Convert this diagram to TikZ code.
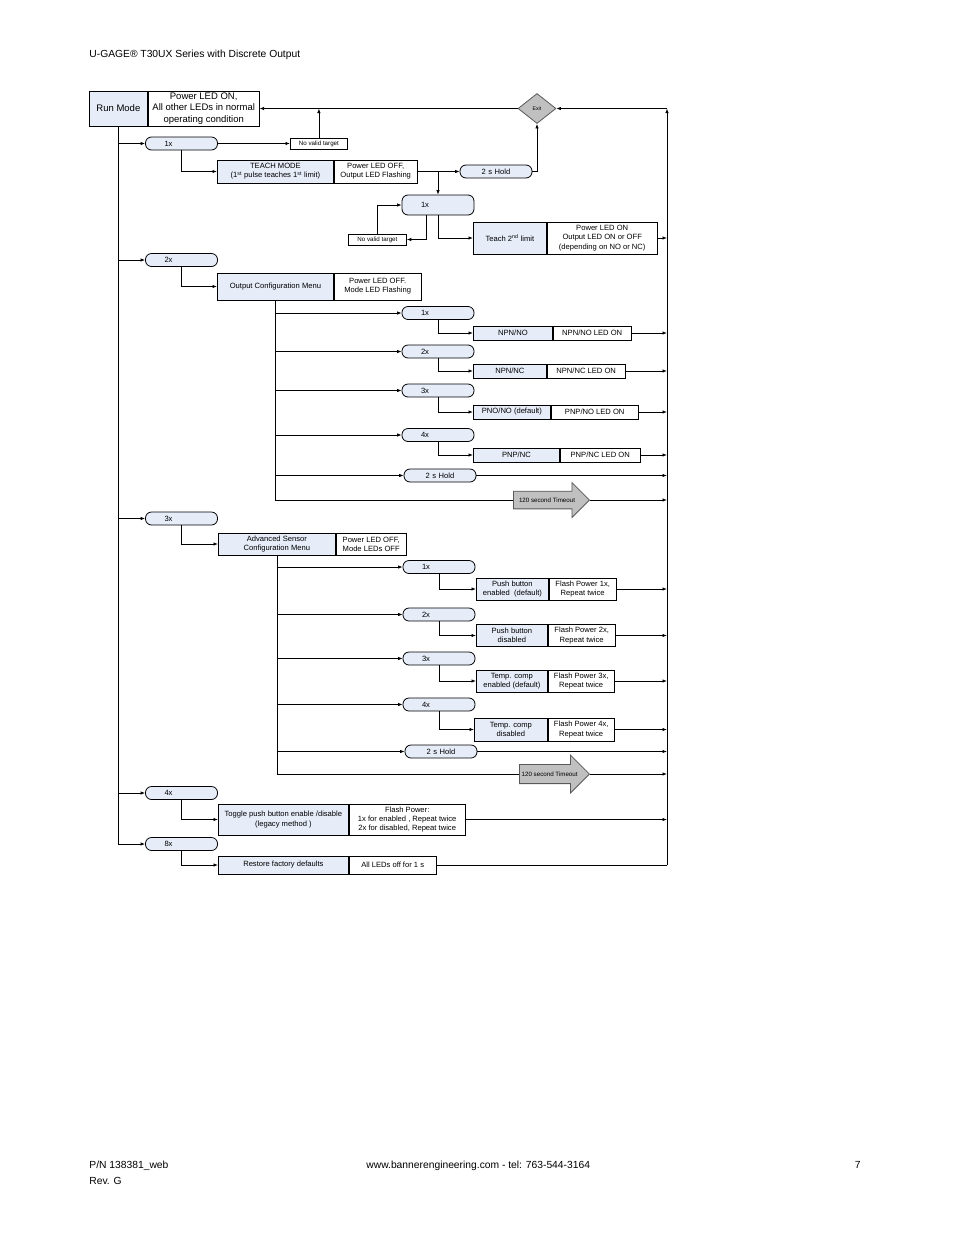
\documentclass[tikz,border=0pt]{standalone}
\usepackage{fontspec}
\setmainfont{Liberation Sans}
\usetikzlibrary{arrows.meta,shapes.geometric,shapes.arrows}
\definecolor{boxblue}{RGB}{230,236,248}
\definecolor{exitgray}{RGB}{192,192,192}
\newcommand{\fbig}{\fontsize{9.5}{11.4}\selectfont}
\newcommand{\fmid}{\fontsize{7.6}{9.2}\selectfont}
\newcommand{\fsml}{\fontsize{6.2}{7.4}\selectfont}
\newcommand{\ftny}{\fontsize{5.2}{6}\selectfont}
\newcommand{\fpage}{\fontsize{10.3}{12}\selectfont}
\tikzset{
 lbox/.style={draw, fill=boxblue, inner sep=1pt, align=center, font=\fmid, anchor=west},
 rbox/.style={draw, fill=white, inner sep=1pt, align=center, font=\fmid, anchor=west},
 pill/.style={draw, fill=boxblue, rounded corners=6pt, minimum width=72pt, minimum height=13pt,
   text width=34pt, inner xsep=19pt, inner ysep=0pt, align=left, font=\fmid},
 holdpill/.style={pill, text width=60pt, inner xsep=6pt, align=center},
 nvt/.style={draw, fill=white, inner sep=1pt, font=\fsml, anchor=west},
 tmo/.style={single arrow, draw=gray!70!black, fill=exitgray, single arrow head extend=8pt,
   minimum width=35pt, inner xsep=1pt, inner ysep=5.5pt, font=\fsml, anchor=tip},
 exitbox/.style={diamond, draw=gray!70!black, fill=exitgray, minimum width=38pt, minimum height=30pt,
   inner sep=0pt, font=\ftny},
 pagetxt/.style={inner sep=0pt, font=\fpage}
}

\begin{document}
\begin{tikzpicture}[x=1pt,y=-1pt,line width=0.8pt,>={Latex[length=4.5pt,width=3.5pt]}]
 \fill[white] (0,0) rectangle (954,1235);
 \useasboundingbox (0,0) rectangle (954,1235);

 %page header and footer
 \node[pagetxt, anchor=base west] (title) at (89,57) {U-GAGE® T30UX Series with Discrete Output};
 \node[pagetxt, anchor=base west] (pn) at (89,1168) {P/N 138381\_web};
 \node[pagetxt, anchor=base west] (rev) at (89,1184) {Rev. G};
 \node[pagetxt, anchor=base west] (web) at (366,1168) {www.bannerengineering.com - tel: 763-544-3164};
 \node[pagetxt, anchor=base east] (pg) at (861,1168) {7};

 %run mode and exit
 \node[lbox, font=\fbig, minimum width=58pt, minimum height=35pt] (runmode) at (89,108.5) {Run Mode};
 \node[rbox, font=\fbig, minimum width=111pt, minimum height=35pt] (runled) at (runmode.east)
   {Power LED ON,\\All other LEDs in normal\\operating condition};
 \node[exitbox] (exit) at (537,108.5) {Exit};
 \coordinate (rtop) at (667,108.5);
 \coordinate (rbot) at (667,865);

 %1x : teach
 \node[pill] (p1) at (181.5,143.5) {1x};
 \node[nvt, minimum width=57pt, minimum height=11pt] (nvt1) at (290,143.5) {No valid target};
 \node[lbox, minimum width=116pt, minimum height=23pt] (teach) at (217,171.5)
   {TEACH MODE\\(1\textsuperscript{st} pulse teaches 1\textsuperscript{st} limit)};
 \node[rbox, minimum width=83pt, minimum height=23pt] (teachr) at (teach.east)
   {Power LED OFF,\\Output LED Flashing};
 \node[holdpill] (hold1) at (496,171.5) {2 s Hold};
 \node[pill, minimum height=20pt] (p1b) at (438,205) {1x};
 \node[nvt, minimum width=58pt, minimum height=11pt] (nvt2) at (348,239.5) {No valid target};
 \node[lbox, minimum width=73pt, minimum height=32pt] (teach2) at (473,238) {Teach 2\textsuperscript{nd} limit};
 \node[rbox, minimum width=110pt, minimum height=32pt] (teach2r) at (teach2.east)
   {Power LED ON\\Output LED ON or OFF\\(depending on NO or NC)};

 %2x : output configuration
 \node[pill] (p2) at (181.5,260) {2x};
 \node[lbox, minimum width=116pt, minimum height=27pt] (ocm) at (217,286.5) {Output Configuration Menu};
 \node[rbox, minimum width=87pt, minimum height=27pt] (ocmr) at (ocm.east) {Power LED OFF.\\Mode LED Flashing};
 \node[pill] (q1) at (438,313) {1x};
 \node[pill] (q2) at (438,351.5) {2x};
 \node[pill] (q3) at (438,390.5) {3x};
 \node[pill] (q4) at (438,435) {4x};
 \node[holdpill] (qh) at (440,475.5) {2 s Hold};
 \node[lbox, minimum width=79pt, minimum height=14pt] (oc1) at (473,333) {NPN/NO};
 \node[rbox, minimum width=78pt, minimum height=14pt] (oc1r) at (oc1.east) {NPN/NO LED ON};
 \node[lbox, minimum width=73pt, minimum height=14pt] (oc2) at (473,371) {NPN/NC};
 \node[rbox, minimum width=78pt, minimum height=14pt] (oc2r) at (oc2.east) {NPN/NC LED ON};
 \node[lbox, minimum width=77pt, minimum height=14pt] (oc3) at (473,412) {PNO/NO (default)};
 \node[rbox, minimum width=87pt, minimum height=14pt] (oc3r) at (oc3.east) {PNP/NO LED ON};
 \node[lbox, minimum width=86pt, minimum height=14pt] (oc4) at (473,455) {PNP/NC};
 \node[rbox, minimum width=80pt, minimum height=14pt] (oc4r) at (oc4.east) {PNP/NC LED ON};

 %3x : advanced sensor configuration
 \node[pill] (p3) at (181.5,518.5) {3x};
 \node[lbox, minimum width=117pt, minimum height=22pt] (asc) at (218,544) {Advanced Sensor\\Configuration Menu};
 \node[rbox, minimum width=70pt, minimum height=22pt] (ascr) at (asc.east) {Power LED OFF,\\Mode LEDs OFF};
 \node[pill] (r1) at (439,567) {1x};
 \node[pill] (r2) at (439,614.5) {2x};
 \node[pill] (r3) at (439,658.5) {3x};
 \node[pill] (r4) at (439,704.5) {4x};
 \node[holdpill] (rh) at (441,751.5) {2 s Hold};
 \node[lbox, minimum width=72pt, minimum height=22pt] (as1) at (476,589) {Push button\\enabled~ (default)};
 \node[rbox, minimum width=67pt, minimum height=22pt] (as1r) at (as1.east) {Flash Power 1x,\\Repeat twice};
 \node[lbox, minimum width=71pt, minimum height=22pt] (as2) at (476,635.5) {Push button\\disabled};
 \node[rbox, minimum width=67pt, minimum height=22pt] (as2r) at (as2.east) {Flash Power 2x,\\Repeat twice};
 \node[lbox, minimum width=71pt, minimum height=22pt] (as3) at (476,681) {Temp. comp\\enabled (default)};
 \node[rbox, minimum width=66pt, minimum height=22pt] (as3r) at (as3.east) {Flash Power 3x,\\Repeat twice};
 \node[lbox, minimum width=73pt, minimum height=23pt] (as4) at (474,729.5) {Temp. comp\\disabled};
 \node[rbox, minimum width=66pt, minimum height=23pt] (as4r) at (as4.east) {Flash Power 4x,\\Repeat twice};

 %4x and 8x
 \node[pill] (p4) at (181.5,793) {4x};
 \node[lbox, minimum width=130pt, minimum height=31pt] (tog) at (218,819.5)
   {Toggle push button enable /disable\\(legacy method )};
 \node[rbox, minimum width=116pt, minimum height=31pt] (togr) at (tog.east)
   {Flash Power:\\1x for enabled , Repeat twice\\2x for disabled, Repeat twice};
 \node[pill] (p8) at (181.5,844) {8x};
 \node[lbox, minimum width=130pt, minimum height=18pt] (rst) at (218,865) {Restore factory defaults};
 \node[rbox, minimum width=87pt, minimum height=18pt] (rstr) at (rst.east) {All LEDs off for 1 s};

 %main trunk
 \draw (runmode.south) -- (runmode.south |- p8.west);
 \foreach \p/\b in {p1/teach,p2/ocm,p3/asc,p4/tog,p8/rst}{
   \draw[->] (runmode.south |- \p.west) -- (\p.west);
   \draw[->] (\p.south) |- (\b.west);
 }

 %teach paths
 \draw[->] (p1.east) -- (nvt1.west);
 \draw[->] (nvt1.north) -- (nvt1.north |- runled.east);
 \draw[->] (exit.west) -- (runled.east);
 \draw[->] (teachr.east) -- (hold1.west);
 \draw[->] (hold1.east) -| (exit.south);
 \draw[->] (teachr.east -| p1b.north) -- (p1b.north);
 \draw[->] (nvt2.north) |- (p1b.west);
 \draw[->] ([xshift=-12pt]p1b.south) |- (nvt2.east);
 \draw[->] (p1b.south) |- (teach2.west);
 \draw[->] (teach2r.east) -- (teach2r.east -| rtop);

 %output configuration paths
 \draw (ocm.south) -- (ocm.south |- 0,500);
 \foreach \q/\b/\c in {q1/oc1/oc1r,q2/oc2/oc2r,q3/oc3/oc3r,q4/oc4/oc4r}{
   \draw[->] (ocm.south |- \q.west) -- (\q.west);
   \draw[->] (\q.south) |- (\b.west);
   \draw[->] (\c.east) -- (\c.east -| rtop);
 }
 \draw[->] (ocm.south |- qh.west) -- (qh.west);
 \draw[->] (qh.east) -- (qh.east -| rtop);
 \node[tmo, minimum height=76pt] (tmo1) at (590,500) {120 second Timeout};
 \draw (ocm.south |- tmo1.tail) -- (tmo1.tail);
 \draw[->] (tmo1.tip) -- (tmo1.tip -| rtop);

 %advanced sensor paths
 \draw (asc.south) -- (asc.south |- 0,774);
 \foreach \q/\b/\c in {r1/as1/as1r,r2/as2/as2r,r3/as3/as3r,r4/as4/as4r}{
   \draw[->] (asc.south |- \q.west) -- (\q.west);
   \draw[->] (\q.south) |- (\b.west);
   \draw[->] (\c.east) -- (\c.east -| rtop);
 }
 \draw[->] (asc.south |- rh.west) -- (rh.west);
 \draw[->] (rh.east) -- (rh.east -| rtop);
 \node[tmo, minimum height=70pt, minimum width=38pt] (tmo2) at (590,774) {120 second Timeout};
 \draw (asc.south |- tmo2.tail) -- (tmo2.tail);
 \draw[->] (tmo2.tip) -- (tmo2.tip -| rtop);

 %return line
 \draw[->] (togr.east) -- (togr.east -| rtop);
 \draw (rstr.east) -- (rbot);
 \draw[->] (rbot) -- (rtop);
 \draw[->] (rtop) -- (exit.east);
\end{tikzpicture}
\end{document}
